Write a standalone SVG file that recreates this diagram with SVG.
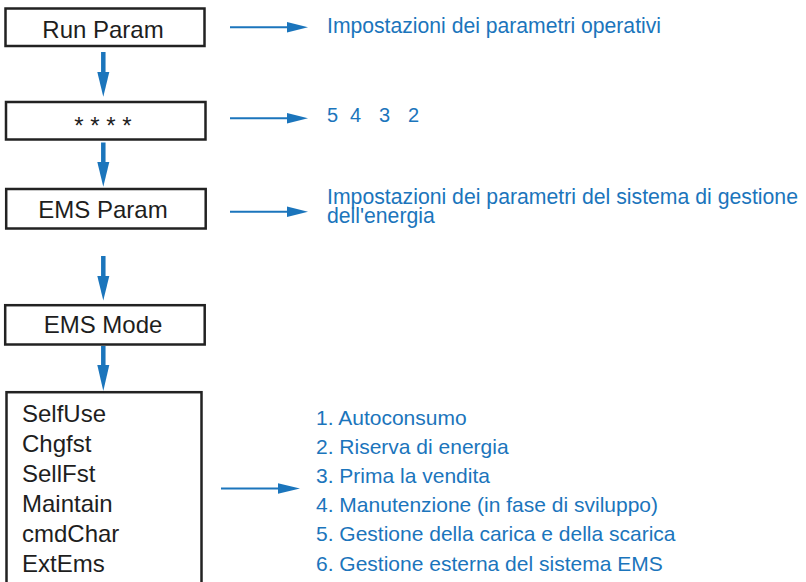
<svg xmlns="http://www.w3.org/2000/svg" width="806" height="582" viewBox="0 0 806 582">
<defs>
<style>
.box{fill:#fff;stroke:#222;stroke-width:2.5}
.lbl{font-family:"Liberation Sans",Arial,sans-serif;font-size:24px;fill:#1e1e1e}
.mid{text-anchor:middle}
.blue{font-family:"Liberation Sans",Arial,sans-serif;font-size:21.2px;fill:#1b75bc}
.list{font-family:"Liberation Sans",Arial,sans-serif;font-size:21px;fill:#1b75bc}
.vline{stroke:#1b75bc;stroke-width:4.5;fill:none}
.hline{stroke:#1b75bc;stroke-width:2;fill:none}
.head{fill:#1b75bc}
</style>
</defs>
<rect width="806" height="582" fill="#fff"/>
<g id="node-run-param">
<rect class="box" x="5.5" y="8.5" width="199" height="37.5"/>
<text class="lbl mid" x="103" y="38">Run Param</text>
</g>
<g id="node-password">
<rect class="box" x="6" y="102" width="199.5" height="37.5"/>
<text class="lbl mid" x="103" y="134">* * * *</text>
</g>
<g id="node-ems-param">
<rect class="box" x="6.2" y="189" width="199.5" height="39.5"/>
<text class="lbl mid" x="103" y="218">EMS Param</text>
</g>
<g id="node-ems-mode">
<rect class="box" x="5.2" y="305.2" width="199.5" height="39.3"/>
<text class="lbl mid" x="103" y="333">EMS Mode</text>
</g>
<g id="node-mode-list">
<rect class="box" x="6.5" y="392.2" width="195" height="210"/>
<text class="lbl" x="22" y="422">SelfUse</text>
<text class="lbl" x="22" y="452">Chgfst</text>
<text class="lbl" x="22" y="482">SellFst</text>
<text class="lbl" x="22" y="512">Maintain</text>
<text class="lbl" x="22" y="542">cmdChar</text>
<text class="lbl" x="22" y="572">ExtEms</text>
</g>
<g id="desc-run-param">
<text class="blue" x="327" y="33.3" textLength="334" lengthAdjust="spacingAndGlyphs">Impostazioni dei parametri operativi</text>
</g>
<g id="desc-password">
<text class="blue" style="font-size:20px" x="327 350 379 408" y="122.3">5432</text>
</g>
<g id="desc-ems-param">
<text class="blue" x="327" y="204.3" textLength="471" lengthAdjust="spacingAndGlyphs">Impostazioni dei parametri del sistema di gestione</text>
<text class="blue" x="327" y="223.3">dell'energia</text>
</g>
<g id="desc-modes">
<text class="list" x="316" y="424.5">1. Autoconsumo</text>
<text class="list" x="316" y="453.7">2. Riserva di energia</text>
<text class="list" x="316" y="482.9">3. Prima la vendita</text>
<text class="list" x="316" y="512.1">4. Manutenzione (in fase di sviluppo)</text>
<text class="list" x="316" y="541.3">5. Gestione della carica e della scarica</text>
<text class="list" x="316" y="570.5">6. Gestione esterna del sistema EMS</text>
</g>
<g id="connectors">
<line class="vline" x1="103.3" y1="52" x2="103.3" y2="74"/>
<polygon class="head" points="97.3,72 109.3,72 103.3,96.7"/>
<line class="vline" x1="103.3" y1="142.5" x2="103.3" y2="164"/>
<polygon class="head" points="97.3,162 109.3,162 103.3,186.7"/>
<line class="vline" x1="103.3" y1="256" x2="103.3" y2="278"/>
<polygon class="head" points="97.3,276 109.3,276 103.3,300.5"/>
<line class="vline" x1="103.3" y1="346" x2="103.3" y2="367"/>
<polygon class="head" points="97.3,365 109.3,365 103.3,391"/>
<line class="hline" x1="230" y1="27.3" x2="289" y2="27.3"/>
<polygon class="head" points="287,22 308,27.3 287,32.6"/>
<line class="hline" x1="230" y1="118.3" x2="289" y2="118.3"/>
<polygon class="head" points="287,113 308,118.3 287,123.6"/>
<line class="hline" x1="230" y1="211.7" x2="289" y2="211.7"/>
<polygon class="head" points="287,206.4 308,211.7 287,217"/>
<line class="hline" x1="221" y1="488.5" x2="280" y2="488.5"/>
<polygon class="head" points="278,483.2 300,488.5 278,493.8"/>
</g>
</svg>
